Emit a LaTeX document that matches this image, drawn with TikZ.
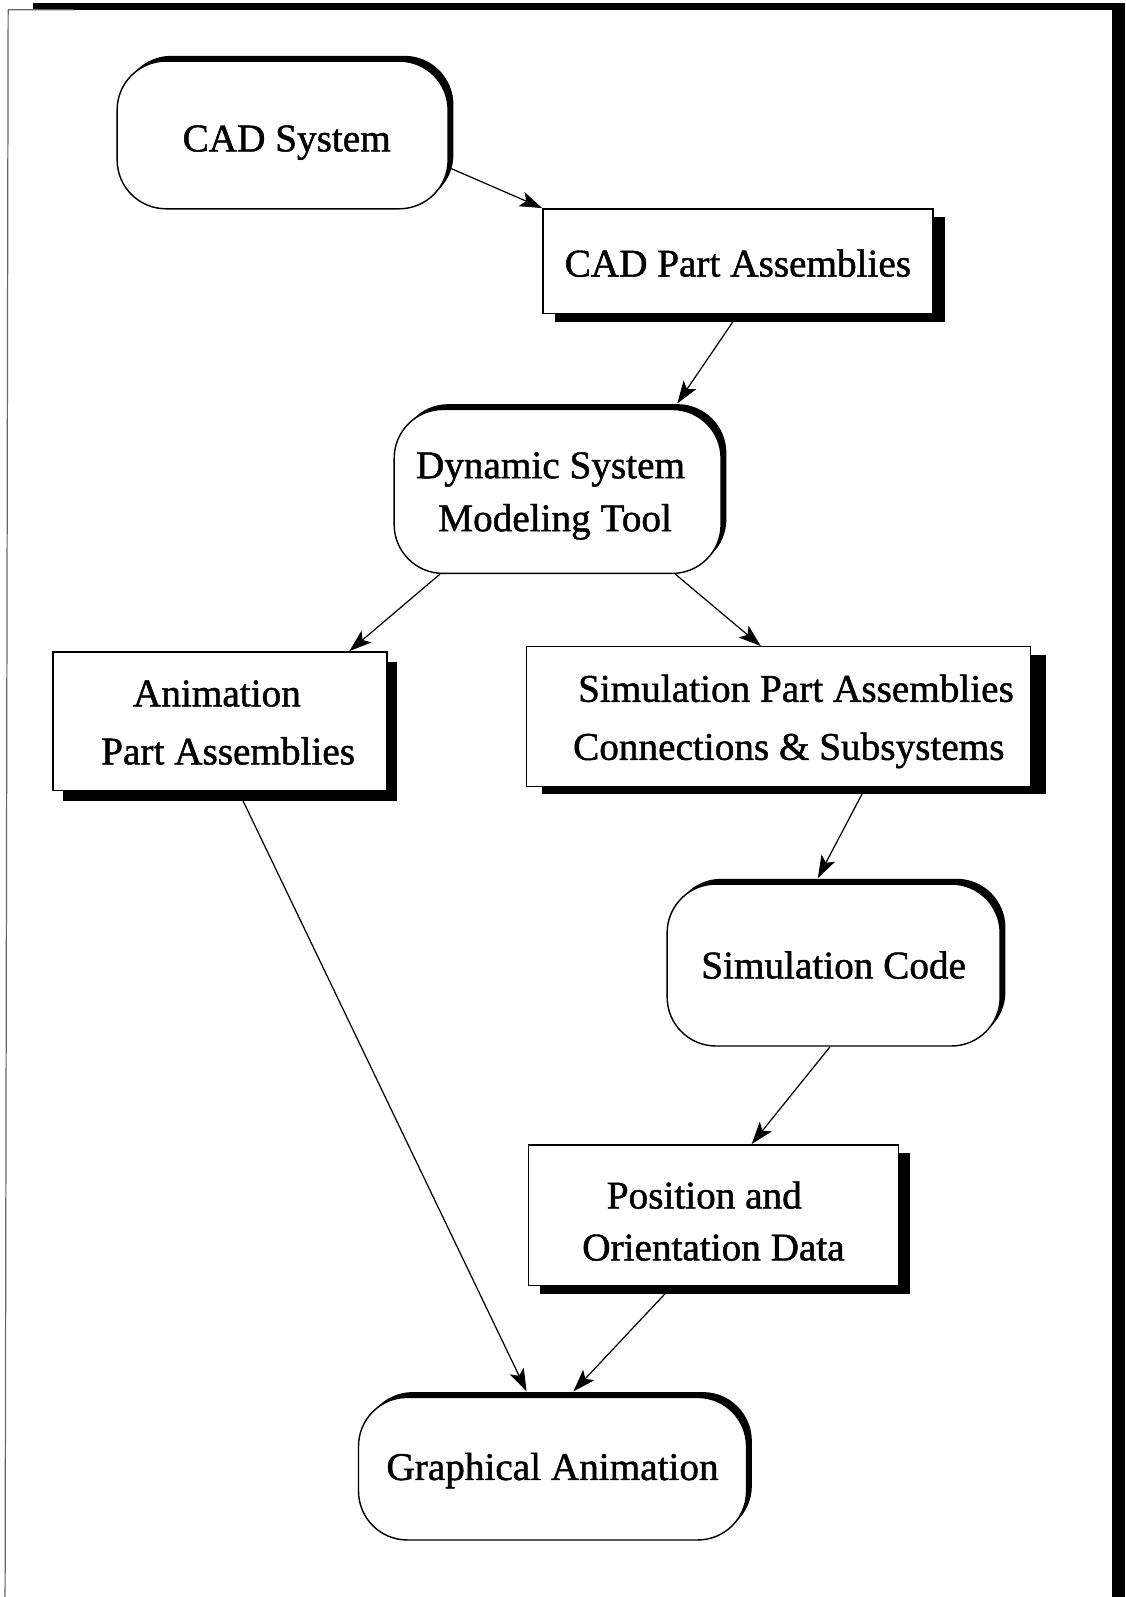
\documentclass[tikz,border=0pt]{standalone}
\usepackage{fontspec}
\setmainfont{Liberation Serif}[FakeBold=1.2]
\usetikzlibrary{shadows,arrows.meta,calc}
% invisible strut that lowers the text block of a node
\newcommand{\lowerby}[1]{\rule{0pt}{#1}}
\begin{document}
\begin{tikzpicture}[x=0.5pt,y=-0.5pt,
  every node/.style={font=\fontsize{19.25}{26}\selectfont},
  flowbox/.style={draw=black, line width=0.7pt, fill=white, inner sep=0pt, align=center},
  roundbox/.style={flowbox, rounded corners=24pt,
    drop shadow={shadow xshift=2.6pt, shadow yshift=2.6pt, opacity=1, fill=black}},
  squarebox/.style 2 args={flowbox,
    drop shadow={shadow xshift=#1, shadow yshift=#2, opacity=1, fill=black}},
  arr/.style={line width=0.6pt, -{Stealth[length=11pt,width=7.5pt,inset=2.5pt]}}]

\useasboundingbox (0,0) rectangle (1105,1568);

% page frame
\fill[black] (32,2.5) rectangle (1105,9.5);
\fill[black] (1092,2.5) rectangle (1105,1568);
\draw[black!60, line width=0.6pt] (72,9.5) -- (8,9.5) -- (5,1568);

% process boxes
\node[roundbox, minimum width=162.5pt, minimum height=72.5pt] (cad) at (277.5,132.5)
  {\lowerby{20.3pt}\hspace*{4pt}CAD System};
\node[squarebox={6pt}{-4pt}, minimum width=191.5pt, minimum height=51.5pt] (cadpa) at (724.5,256.5)
  {\lowerby{15.2pt}CAD Part Assemblies};
\node[roundbox, minimum width=160.5pt, minimum height=80.5pt] (dyn) at (547.5,482.5)
  {\lowerby{17.2pt}\hspace*{-7pt}Dynamic System\\\hspace*{-2.5pt}Modeling Tool};
\node[squarebox={5pt}{-5pt}, minimum width=164pt, minimum height=68pt,
  font=\fontsize{19.25}{28.5}\selectfont] (anim) at (216,708)
  {\lowerby{14.2pt}\hspace*{-3pt}Animation\\\hspace*{8pt}Part Assemblies};
\node[squarebox={7.5pt}{-4pt}, minimum width=247.5pt, minimum height=68.5pt,
  font=\fontsize{19.25}{28.5}\selectfont] (simpa) at (764.5,703.5)
  {\lowerby{18.2pt}\hspace*{17pt}Simulation Part Assemblies\\\hspace*{10pt}Connections \& Subsystems};
\node[roundbox, minimum width=163.5pt, minimum height=79.5pt] (simcode) at (818.5,947.5)
  {Simulation Code};
\node[squarebox={5.5pt}{-4pt}, minimum width=181.5pt, minimum height=69pt,
  font=\fontsize{19.25}{25.5}\selectfont] (pos) at (700.5,1193)
  {\lowerby{19.2pt}\hspace*{-9pt}Position and\\Orientation Data};
\node[roundbox, minimum width=190.5pt, minimum height=70pt] (graph) at (542.5,1442)
  {\lowerby{15.2pt}Graphical Animation};

% data flow
\draw[arr] ($(cad.east)+(0pt,-16pt)$) -- (cadpa.north west);
\draw[arr] (cadpa.south) -- ($(dyn.north)+(58.75pt,2.6pt)$);
\draw[arr] ($(dyn.south)+(-57.75pt,0pt)$) -- ($(anim.north)+(63.5pt,0pt)$);
\draw[arr] ($(dyn.south)+(57.75pt,0pt)$) -- ($(simpa.north)+(-8.75pt,0pt)$);
\draw[arr] ($(simpa.south)+(42.75pt,0pt)$) -- ($(simcode.north)+(-7.75pt,2.6pt)$);
\draw[arr] ($(simcode.south)+(-1.75pt,0pt)$) -- ($(pos.north)+(18.75pt,0pt)$);
\draw[arr] ($(pos.south)+(-20.25pt,0pt)$) -- ($(graph.north)+(10.25pt,2.6pt)$);
\draw[arr] ($(anim.south)+(9pt,0pt)$) -- ($(graph.north)+(-12.75pt,2.6pt)$);
\end{tikzpicture}
\end{document}
